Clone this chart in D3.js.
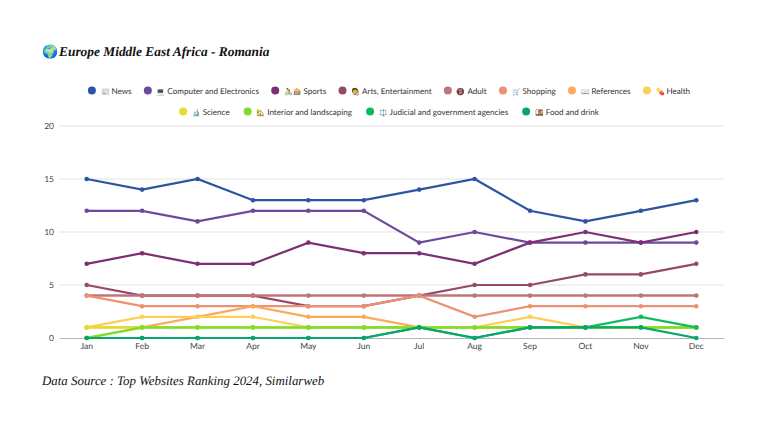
<!DOCTYPE html>
<meta charset="utf-8">
<style type="text/css">
    html, body { margin: 0; background: #fff; }
    svg { display: block; }
    text { font-family: Lato, "Noto Sans", sans-serif; text-rendering: geometricPrecision; }
    .title, .source { font-family: "Liberation Serif", serif; font-style: italic; fill: #111; }
</style>
<svg width="768" height="432"></svg>
<script src="https://cdn.jsdelivr.net/npm/d3@7"></script>
<script type="text/javascript">

    const months = ["Jan", "Feb", "Mar", "Apr", "May", "Jun", "Jul", "Aug", "Sep", "Oct", "Nov", "Dec"];
    const yTicks = [0, 5, 10, 15, 20];

    const icons = ["📰", "💻", "🚴🎰", "🧑‍🎨", "🔞", "🛒", "📖", "💊", "🔬", "🏡", "⚖️", "🍱"];
    const names = ["News", "Computer and Electronics", "Sports", "Arts, Entertainment", "Adult", "Shopping",
        "References", "Health", "Science", "Interior and landscaping", "Judicial and government agencies", "Food and drink"];
    const colors = ["#2b55a3", "#6a4a9c", "#7d2f74", "#964a6b", "#c0737a", "#ec9274",
        "#f9ab5c", "#fdcf58", "#e0e02c", "#7ede2c", "#10b95c", "#08a56e"];

    const news = [15, 14, 15, 13, 13, 13, 14, 15, 12, 11, 12, 13];
    const computer = [12, 12, 11, 12, 12, 12, 9, 10, 9, 9, 9, 9];
    const sports = [7, 8, 7, 7, 9, 8, 8, 7, 9, 10, 9, 10];
    const arts = [5, 4, 4, 4, 3, 3, 4, 5, 5, 6, 6, 7];
    const adult = [4, 4, 4, 4, 4, 4, 4, 4, 4, 4, 4, 4];
    const shopping = [4, 3, 3, 3, 3, 3, 4, 2, 3, 3, 3, 3];
    const references = [1, 1, 2, 3, 2, 2, 1, 1, 1, 1, 1, 1];
    const health = [1, 2, 2, 2, 1, 1, 1, 1, 2, 1, 1, 1];
    const science = [1, 1, 1, 1, 1, 1, 1, 1, 1, 1, 1, 1];
    const interior = [0, 1, 1, 1, 1, 1, 1, 1, 1, 1, 1, 1];
    const judicial = [0, 0, 0, 0, 0, 0, 1, 0, 1, 1, 2, 1];
    const food = [0, 0, 0, 0, 0, 0, 1, 0, 1, 1, 1, 0];
    const series = [news, computer, sports, arts, adult, shopping, references, health, science, interior, judicial, food];

    const svg = d3.select("svg");
    const x = d3.scaleBand().domain(months).range([59, 724]);
    const y = d3.scaleLinear().domain([0, 20]).range([338, 126]);

    // grid + axes
    svg.append("g").selectAll("line").data(yTicks.slice(1)).enter().append("line")
        .attr("x1", 59).attr("x2", 724)
        .attr("y1", d => y(d)).attr("y2", d => y(d))
        .attr("stroke", "#dcdcdc").attr("stroke-width", 0.8);

    const xAxis = svg.append("g").attr("transform", "translate(0,338)")
        .call(d3.axisBottom(x).tickSize(0).tickPadding(5));
    xAxis.select(".domain").attr("stroke", "#b4b4b4");
    xAxis.selectAll("text").attr("font-size", 8.5).attr("fill", "#444").style("font-family", "Lato");

    const yAxis = svg.append("g").attr("transform", "translate(59,0)")
        .call(d3.axisLeft(y).tickValues(yTicks).tickSize(0).tickPadding(5));
    yAxis.select(".domain").remove();
    yAxis.selectAll("text").attr("font-size", 8.5).attr("fill", "#444").style("font-family", "Lato");

    // lines
    const line = d3.line().x((d, i) => x(months[i]) + x.bandwidth() / 2).y(d => y(d));
    series.forEach(function(values, s) {
        const g = svg.append("g");
        g.append("path").attr("d", line(values)).attr("fill", "none")
            .attr("stroke", colors[s])
            .attr("stroke-width", (values == adult || values == interior) ? 2.5 : 2.2);
        g.selectAll("circle").data(values).enter().append("circle")
            .attr("cx", (d, i) => x(months[i]) + x.bandwidth() / 2)
            .attr("cy", d => y(d))
            .attr("r", 2.3).attr("fill", colors[s]);
    });

    // legend, two centred rows
    const rows = [[0, 8, 90.5, 12.3], [8, 12, 111.5, 14]];
    rows.forEach(function(row) {
        const items = d3.range(row[0], row[1]).map(function(i) {
            const g = svg.append("g");
            g.append("circle").attr("r", 4).attr("cx", 4).attr("cy", row[2]).attr("fill", colors[i]);
            const t = g.append("text").attr("x", 13).attr("y", row[2] + 3)
                .attr("font-size", 8.1).attr("fill", "#333");
            t.append("tspan").attr("font-size", 7).text(icons[i] + " ");
            t.append("tspan").text(names[i]);
            return { g: g, w: 13 + t.node().getComputedTextLength() };
        });
        const gap = row[3];
        let left = 389 - (d3.sum(items, d => d.w) + gap * (items.length - 1)) / 2;
        items.forEach(function(it) {
            it.g.attr("transform", "translate(" + left + ",0)");
            left += it.w + gap;
        });
    });

    svg.append("text").attr("x", 42).attr("y", 56).attr("font-size", 13).text("🌍");
    svg.append("text").attr("class", "title").attr("x", 59).attr("y", 56)
        .attr("font-size", 13.4).attr("font-weight", 700).text("Europe Middle East Africa - Romania");
    svg.append("text").attr("class", "source").attr("x", 42).attr("y", 385)
        .attr("font-size", 12.9).text("Data Source : Top Websites Ranking 2024, Similarweb");

</script>
